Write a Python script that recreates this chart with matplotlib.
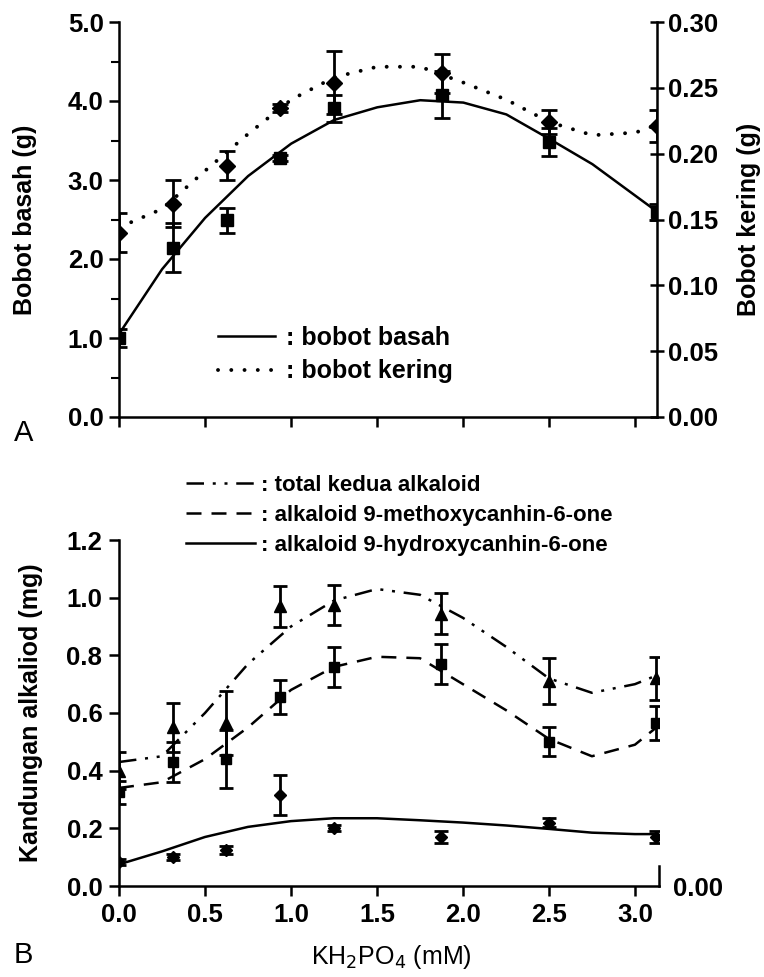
import matplotlib
matplotlib.use("Agg")
import matplotlib.pyplot as plt

plt.rcParams['font.family'] = ['Liberation Sans', 'DejaVu Sans']

# KH2PO4 concentrations (mM)
conc = [0, 0.3125, 0.625, 0.9375, 1.25, 1.875, 2.5, 3.125]

# panel A: wet weight (g, left axis) and dry weight (g, right axis)
wet = [1.0, 2.14, 2.49, 3.28, 3.91, 4.08, 3.48, 2.6]
wet_err = [0.12, 0.31, 0.16, 0.04, 0.17, 0.3, 0.18, 0.1]
dry = [0.140, 0.162, 0.191, 0.235, 0.254, 0.261, 0.224, 0.221]
dry_err = [0.015, 0.018, 0.011, 0.003, 0.024, 0.015, 0.009, 0.012]

# trend lines
fit_x = [0, 0.25, 0.5, 0.75, 1.0, 1.25, 1.5, 1.75, 2.0, 2.25, 2.5, 2.75, 3.0, 3.125]
wet_fit = [1.05, 1.87, 2.52, 3.05, 3.46, 3.76, 3.92, 4.01, 3.98, 3.83, 3.52, 3.20, 2.80, 2.6]
dry_fit = [0.144, 0.158, 0.187, 0.215, 0.241, 0.258, 0.266, 0.266, 0.254, 0.241,
           0.224, 0.214, 0.216, 0.222]

# panel B: alkaloid content (mg)
total = [0.40, 0.55, 0.565, 0.97, 0.975, 0.945, 0.71, 0.72]
total_err = [0.065, 0.085, 0.11, 0.07, 0.07, 0.07, 0.08, 0.075]
methoxy = [0.325, 0.43, 0.44, 0.655, 0.76, 0.77, 0.50, 0.565]
methoxy_err = [0.04, 0.07, 0.1, 0.06, 0.07, 0.07, 0.05, 0.06]
hydroxy = [0.083, 0.10, 0.125, 0.315, 0.20, 0.17, 0.22, 0.17]
hydroxy_err = [0.01, 0.01, 0.015, 0.07, 0.01, 0.02, 0.015, 0.02]

total_fit = [0.43, 0.45, 0.60, 0.77, 0.90, 0.99, 1.03, 1.01, 0.93, 0.83, 0.72, 0.67, 0.70, 0.73]
methoxy_fit = [0.34, 0.36, 0.44, 0.55, 0.68, 0.76, 0.795, 0.79, 0.70, 0.61, 0.51, 0.45, 0.49, 0.55]
hydroxy_fit = [0.075, 0.12, 0.17, 0.205, 0.225, 0.235, 0.235, 0.228, 0.22, 0.21, 0.198,
               0.185, 0.18, 0.18]

lw_sp = 1.8
fs = 18.5   # tick labels
fl = 18     # axis labels

fig = plt.figure(figsize=(7.64, 9.77), dpi=100)

# ---------- panel A ----------
ax = fig.add_axes([119/764, 1 - 417/977, 538/764, 395/977])
ax2 = ax.twinx()
ax.set_zorder(ax2.get_zorder() + 1)
ax.patch.set_visible(False)

eb = dict(fmt='none', ecolor='black', elinewidth=2, capsize=6, capthick=2)
ax.errorbar(conc, wet, yerr=wet_err, **eb)
ax.plot(conc, wet, 's', color='black', ms=9)
l_wet, = ax.plot(fit_x, wet_fit, '-', color='black', lw=1.8)

ax2.errorbar(conc, dry, yerr=dry_err, **eb)
ax2.plot(conc, dry, 'D', color='black', ms=8)
l_dry, = ax2.plot(fit_x, dry_fit, color='black', lw=2.8, linestyle=(0, (0.01, 3.4)),
                  dash_capstyle='round')

ax.set_xlim(0, 3.125)
ax.set_ylim(0, 5)
ax2.set_ylim(0, 0.30)
ax.set_yticks([0, 1, 2, 3, 4, 5])
ax.set_yticklabels(['0.0', '1.0', '2.0', '3.0', '4.0', '5.0'])
ax.set_yticks([0.5, 1.5, 2.5, 3.5, 4.5], minor=True)
ax.set_xticks([0, 0.5, 1.0, 1.5, 2.0, 2.5, 3.0])
ax.set_xticklabels([])
ax2.set_yticks([0, 0.05, 0.10, 0.15, 0.20, 0.25, 0.30])
ax2.set_yticklabels(['0.00', '0.05', '0.10', '0.15', '0.20', '0.25', '0.30'])

for a in (ax, ax2):
    a.spines['top'].set_visible(False)
    for s in a.spines.values():
        s.set_linewidth(lw_sp)
ax.spines['right'].set_visible(False)
ax2.spines['left'].set_visible(False)
ax2.spines['bottom'].set_visible(False)

ax.tick_params(axis='y', which='major', direction='out', length=7, width=1.8,
               labelsize=fs, pad=4)
ax.tick_params(axis='y', which='minor', direction='out', length=6, width=1.5)
ax.tick_params(axis='x', direction='out', length=7, width=1.8)
ax2.tick_params(axis='y', direction='inout', length=10, width=1.8, labelsize=fs, pad=3)
for t in ax.get_yticklabels() + ax2.get_yticklabels():
    t.set_fontweight('bold')

ax.set_ylabel('Bobot basah (g)', fontsize=fl, fontweight='bold')
ax.yaxis.set_label_coords(-0.152, 0.5)
ax2.set_ylabel('Bobot kering (g)', fontsize=fl, fontweight='bold')
ax2.yaxis.set_label_coords(1.149, 0.5)

ax.legend([l_wet, l_dry], [': bobot basah', ': bobot kering'], loc='upper left',
          bbox_to_anchor=(0.151, 0.275), frameon=False, handlelength=2.3,
          handletextpad=0.45, labelspacing=0.38, borderpad=0.2,
          prop=dict(size=fl, weight='bold'))

fig.text(14/764, 1 - 433/977, 'A', fontsize=21, va='center', ha='left')

# ---------- panel B ----------
bx = fig.add_axes([119/764, 1 - 886/977, 540/764, 346/977])
eb2 = dict(fmt='none', ecolor='black', elinewidth=2, capsize=5, capthick=2)
bx.errorbar(conc, total, yerr=total_err, **eb2)
bx.errorbar(conc, methoxy, yerr=methoxy_err, **eb2)
bx.errorbar(conc, hydroxy, yerr=hydroxy_err, **eb2)
bx.plot(conc, total, '^', color='black', ms=8)
bx.plot(conc, methoxy, 's', color='black', ms=7)
bx.plot(conc, hydroxy, 'D', color='black', ms=6)
l_tot, = bx.plot(fit_x, total_fit, color='black', lw=1.8,
                 linestyle=(0, (7, 3.5, 1.2, 3.5, 1.2, 3.5)))
l_met, = bx.plot(fit_x, methoxy_fit, color='black', lw=1.8, linestyle=(0, (6, 4)))
l_hyd, = bx.plot(fit_x, hydroxy_fit, '-', color='black', lw=1.8)

bx.set_xlim(0, 3.14)
bx.set_ylim(0, 1.2)
bx.set_xticks([0, 0.5, 1.0, 1.5, 2.0, 2.5, 3.0])
bx.set_xticklabels(['0.0', '0.5', '1.0', '1.5', '2.0', '2.5', '3.0'])
bx.set_yticks([0, 0.2, 0.4, 0.6, 0.8, 1.0, 1.2])
bx.set_yticklabels(['0.0', '0.2', '0.4', '0.6', '0.8', '1.0', '1.2'])
bx.spines['top'].set_visible(False)
bx.spines['right'].set_visible(False)
for s in bx.spines.values():
    s.set_linewidth(lw_sp)
bx.tick_params(direction='out', length=7, width=1.8, labelsize=fs, pad=5)
for t in bx.get_xticklabels() + bx.get_yticklabels():
    t.set_fontweight('bold')

# small right axis stub with only the zero label
bx2 = bx.twinx()
bx2.set_ylim(0, 1.2)
for k in ('top', 'left', 'bottom'):
    bx2.spines[k].set_visible(False)
bx2.spines['right'].set_linewidth(lw_sp)
bx2.spines['right'].set_bounds(0, 0.07)
bx2.set_yticks([0])
bx2.set_yticklabels(['0.00'])
bx2.tick_params(axis='y', length=0, labelsize=fs, pad=10)
for t in bx2.get_yticklabels():
    t.set_fontweight('bold')

bx.set_ylabel('Kandungan alkaliod (mg)', fontsize=fl, fontweight='bold')
bx.yaxis.set_label_coords(-0.14, 0.5)
bx.set_xlabel('KH$_2$PO$_4$ (mM)', fontsize=fl)
bx.xaxis.set_label_coords(0.505, -0.165)

bx.legend([l_tot, l_met, l_hyd],
          [': total kedua alkaloid', ': alkaloid 9-methoxycanhin-6-one',
           ': alkaloid 9-hydroxycanhin-6-one'],
          loc='lower left', bbox_to_anchor=(0.095, 0.91), frameon=False,
          handlelength=3.1, handletextpad=0.3, labelspacing=0.4, borderpad=0.2,
          prop=dict(size=16, weight='bold'))

fig.text(14/764, 1 - 955/977, 'B', fontsize=21, va='center', ha='left')

fig.savefig('out.png', dpi=100)
